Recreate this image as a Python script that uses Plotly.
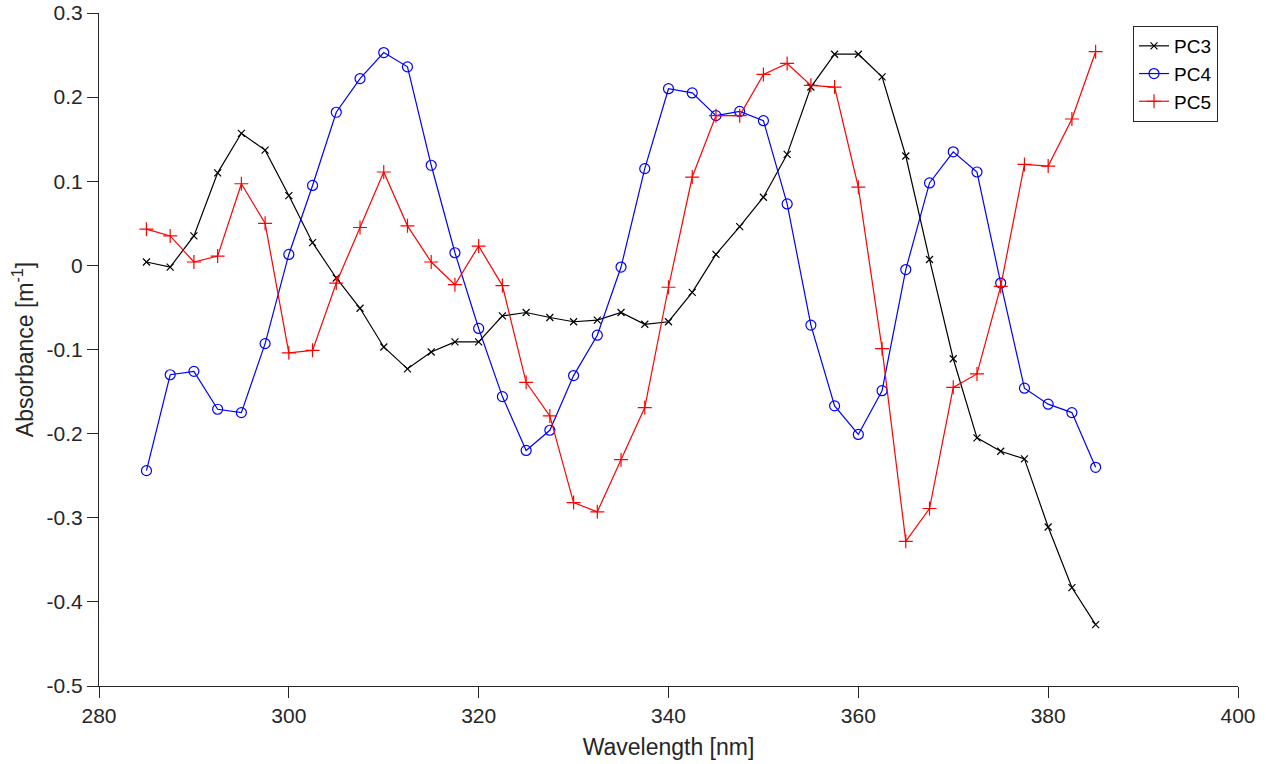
import plotly.graph_objects as go

wavelength = [285 + 2.5 * i for i in range(41)]

pc3 = [0.004, -0.002, 0.035, 0.110, 0.157, 0.137, 0.083, 0.027, -0.015, -0.051,
       -0.097, -0.123, -0.103, -0.091, -0.091, -0.060, -0.056, -0.062, -0.067, -0.065,
       -0.056, -0.070, -0.067, -0.032, 0.013, 0.046, 0.081, 0.132, 0.212, 0.251,
       0.251, 0.224, 0.130, 0.007, -0.111, -0.205, -0.221, -0.230, -0.311, -0.383,
       -0.427]

pc4 = [-0.244, -0.130, -0.126, -0.171, -0.175, -0.093, 0.013, 0.095, 0.182, 0.222,
       0.253, 0.236, 0.119, 0.015, -0.075, -0.156, -0.220, -0.196, -0.131, -0.083,
       -0.002, 0.115, 0.210, 0.205, 0.178, 0.183, 0.172, 0.073, -0.071, -0.167,
       -0.201, -0.149, -0.005, 0.098, 0.135, 0.111, -0.021, -0.146, -0.165, -0.175,
       -0.240]

pc5 = [0.043, 0.035, 0.004, 0.011, 0.097, 0.050, -0.104, -0.101, -0.021, 0.045,
       0.111, 0.047, 0.004, -0.023, 0.023, -0.024, -0.139, -0.179, -0.282, -0.293,
       -0.231, -0.169, -0.026, 0.105, 0.178, 0.178, 0.227, 0.240, 0.214, 0.212,
       0.093, -0.099, -0.328, -0.289, -0.145, -0.129, -0.025, 0.120, 0.118, 0.174,
       0.254]

x_ticks = [280, 300, 320, 340, 360, 380, 400]
y_ticks = [-0.5, -0.4, -0.3, -0.2, -0.1, 0, 0.1, 0.2, 0.3]
y_tick_text = ["-0.5", "-0.4", "-0.3", "-0.2", "-0.1", "0", "0.1", "0.2", "0.3"]

axis_color = "#262626"
font_family = "Liberation Sans, Arial, Helvetica, sans-serif"

fig = go.Figure()
fig.add_trace(go.Scatter(
    x=wavelength, y=pc3, name="PC3", mode="lines+markers",
    line=dict(color="black", width=1.2),
    marker=dict(symbol="x-thin-open", size=7, line=dict(color="black", width=1.2)),
))
fig.add_trace(go.Scatter(
    x=wavelength, y=pc4, name="PC4", mode="lines+markers",
    line=dict(color="#0000ff", width=1.2),
    marker=dict(symbol="circle-open", size=10, color="#0000ff", line=dict(color="#0000ff", width=1.2)),
))
fig.add_trace(go.Scatter(
    x=wavelength, y=pc5, name="PC5", mode="lines+markers",
    line=dict(color="#ff0000", width=1.2),
    marker=dict(symbol="cross-thin-open", size=10, line=dict(color="#ff0000", width=1.2)),
))

fig.update_layout(
    width=1266, height=764,
    margin=dict(l=99, r=28, t=13, b=78, autoexpand=False),
    paper_bgcolor="white", plot_bgcolor="white",
    font=dict(family=font_family, size=21, color=axis_color),
    showlegend=True,
    legend=dict(
        x=(1133 - 99) / 1139, y=(686 - 26) / 673, xanchor="left", yanchor="top",
        bgcolor="white", bordercolor=axis_color, borderwidth=1,
        font=dict(family=font_family, size=19, color="black"),
        tracegroupgap=0,
    ),
    xaxis=dict(
        range=[280, 400], tickvals=x_ticks, ticktext=[str(v) for v in x_ticks],
        showgrid=False, zeroline=False, showline=True, linecolor=axis_color, linewidth=1,
        ticks="outside", ticklen=11, tickcolor=axis_color, tickwidth=1,
        tickfont=dict(size=21, color=axis_color),
        title=dict(text="Wavelength [nm]", font=dict(size=23, color=axis_color), standoff=12),
        automargin=False,
    ),
    yaxis=dict(
        range=[-0.5, 0.3], tickvals=y_ticks, ticktext=y_tick_text,
        showgrid=False, zeroline=False, showline=True, linecolor=axis_color, linewidth=1,
        ticks="outside", ticklen=11, tickcolor=axis_color, tickwidth=1,
        tickfont=dict(size=21, color=axis_color),
        title=dict(text="Absorbance [m<sup>-1</sup>]", font=dict(size=23, color=axis_color), standoff=6),
        automargin=False,
    ),
)

fig.write_html("out.html")
